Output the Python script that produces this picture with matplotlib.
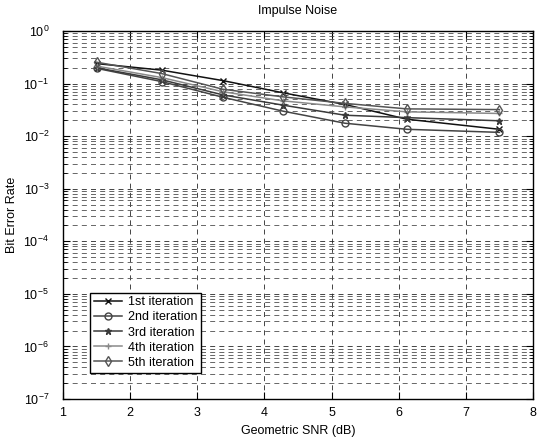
import matplotlib
matplotlib.use("Agg")
import matplotlib.pyplot as plt
from matplotlib.ticker import LogLocator, NullFormatter

plt.rcParams['font.family'] = ['Liberation Sans', 'DejaVu Sans']

# geometric SNR (dB)
snr = [1.5, 2.47, 3.38, 4.27, 5.2, 6.12, 7.5]

# bit error rate per iteration
ber_1st = [0.24, 0.18, 0.114, 0.067, 0.040, 0.021, 0.0135]
ber_2nd = [0.195, 0.109, 0.055, 0.030, 0.0176, 0.0135, 0.0118]
ber_3rd = [0.20, 0.118, 0.061, 0.039, 0.025, 0.0225, 0.0196]
ber_4th = [0.215, 0.13, 0.07, 0.047, 0.036, 0.029, 0.027]
ber_5th = [0.255, 0.155, 0.078, 0.056, 0.042, 0.033, 0.032]

labels = ['1st iteration', '2nd iteration', '3rd iteration', '4th iteration', '5th iteration']

fig = plt.figure(figsize=(5.42, 4.45), dpi=100)
ax = fig.add_axes([63/542, 46/445, 470/542, 368/445])

series = [ber_1st, ber_2nd, ber_3rd, ber_4th, ber_5th]
colors = ['#111111', '#444444', '#3a3a3a', '#8a8a8a', '#555555']
markers = ['x', 'o', '*', '+', 'd']
for ys, lab, c, m in zip(series, labels, colors, markers):
    mfc = 'none' if m in ('o', 'd') else c
    ax.plot(snr, ys, color=c, marker=m, markersize=5, markerfacecolor=mfc,
            markeredgecolor=c, linewidth=1.1, label=lab)

ax.set_yscale('log')
ax.set_xlim(1, 8)
ax.set_ylim(1e-7, 1)
ax.yaxis.set_major_locator(LogLocator(base=10, numticks=10))
ax.yaxis.set_minor_locator(LogLocator(base=10, subs=range(2, 10), numticks=100))
ax.yaxis.set_minor_formatter(NullFormatter())

dash = (0, (6, 5))
ax.grid(True, which='major', axis='both', linestyle=dash, color='0.15', linewidth=0.6)
ax.grid(True, which='minor', axis='y', linestyle=dash, color='0.3', linewidth=0.6)

ax.tick_params(which='both', direction='in', top=True, right=True, labelsize=9)
ax.tick_params(which='major', length=5)
ax.tick_params(which='minor', length=3)
ax.tick_params(axis='y', which='major', pad=10)
ax.tick_params(axis='x', which='major', pad=6)
for s in ax.spines.values():
    s.set_linewidth(1.0)

ax.set_title('Impulse Noise', fontsize=9, pad=12)
ax.set_xlabel('Geometric SNR (dB)', fontsize=9, labelpad=4)
ax.set_ylabel('Bit Error Rate', fontsize=9, labelpad=4)

leg = ax.legend(loc='lower left', bbox_to_anchor=(0.045, 0.055), fontsize=9,
                fancybox=False, framealpha=1, edgecolor='black',
                handlelength=2.2, labelspacing=0.25, borderpad=0.3,
                handletextpad=0.5)
leg.get_frame().set_linewidth(1.0)

fig.savefig('out.png', dpi=100)
